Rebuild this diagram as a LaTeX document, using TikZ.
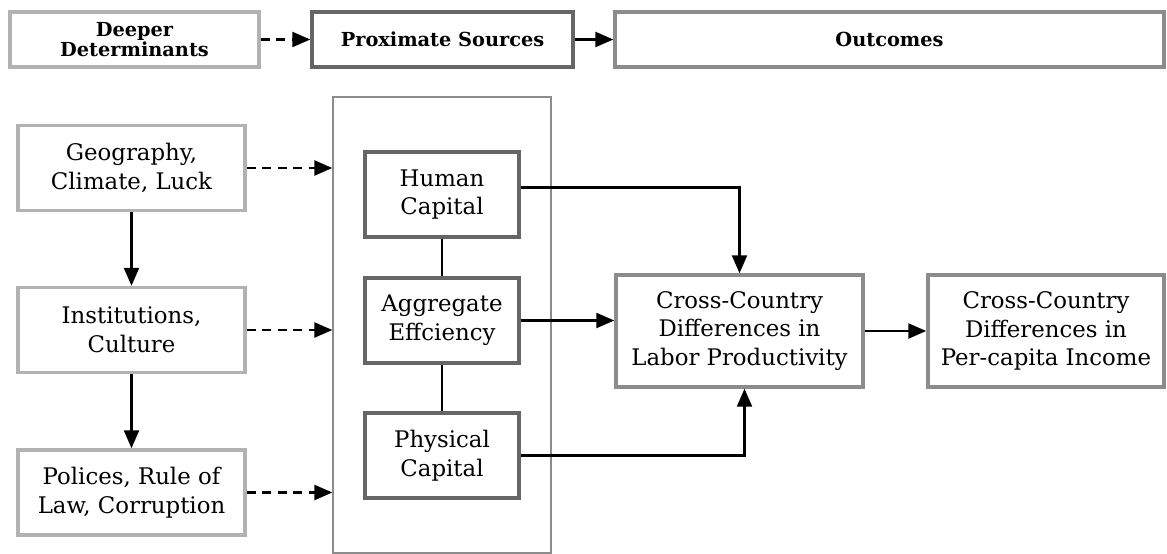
\documentclass[tikz,border=0pt]{standalone}
\usepackage{fontspec}
\setmainfont{DejaVu Serif}
\usetikzlibrary{arrows.meta, positioning}

\tikzset{
  box/.style={draw, line width=2pt, fill=white, align=center, inner sep=0pt,
    font=\fontsize{13}{16.3}\selectfont},
  lightbox/.style={box, draw=black!30},
  darkbox/.style={box, draw=black!60},
  midbox/.style={box, draw=black!45},
  headfont/.style={font=\bfseries\fontsize{11}{11.8}\selectfont},
  arr/.style={-{Triangle[length=0.36cm,width=0.3cm]}, line width=1.4pt},
  darr/.style={arr, dash pattern=on 0.18cm off 0.13cm},
}

\begin{document}
\begin{tikzpicture}[x=0.02cm, y=-0.02cm]
\useasboundingbox (0,0) rectangle (1167,554);

% header row
\node[lightbox, headfont, minimum width=4.98cm, minimum height=1.1cm] (deeper) at (134.5,39.5) {Deeper\\Determinants};
\node[darkbox, headfont, minimum width=5.22cm, minimum height=1.1cm] (proxim) at (442.5,39.5) {Proximate Sources};
\node[midbox, headfont, minimum width=10.98cm, minimum height=1.1cm] (outcome) at (889.5,39.5) {Outcomes};
\draw[darr] (deeper) -- (proxim);
\draw[arr] (proxim) -- (outcome);

% deeper determinants
\node[lightbox, minimum width=4.54cm, minimum height=1.7cm] (geo) at (131.5,168) {Geography,\\Climate, Luck};
\node[lightbox, minimum width=4.54cm, minimum height=1.7cm] (inst) at (131.5,330) {Institutions,\\Culture};
\node[lightbox, minimum width=4.54cm, minimum height=1.7cm] (pol) at (131.5,492.5) {Polices, Rule of\\Law, Corruption};
\draw[arr] (geo) -- (inst);
\draw[arr] (inst) -- (pol);

% proximate sources
\node[draw=black!45, line width=0.8pt, minimum width=4.36cm, minimum height=9.12cm] (frame) at (442,325) {};
\node[darkbox, minimum width=3.08cm, minimum height=1.7cm] (human) at (442,194.5) {Human\\Capital};
\node[darkbox, minimum width=3.08cm, minimum height=1.7cm] (agg) at (442,320.5) {Aggregate\\Effciency};
\node[darkbox, minimum width=3.08cm, minimum height=1.7cm] (phys) at (442,455.5) {Physical\\Capital};
\draw[line width=1.4pt] (human) -- (agg);
\draw[line width=1.4pt] (agg) -- (phys);

\draw[darr] (geo.east) -- (geo.east -| frame.west);
\draw[darr] (inst.east) -- (inst.east -| frame.west);
\draw[darr] (pol.east) -- (pol.east -| frame.west);

% outcomes
\node[midbox, minimum width=4.94cm, minimum height=2.24cm] (labor) at (739.5,331) {Cross-Country\\Differences in\\Labor Productivity};
\node[midbox, minimum width=4.72cm, minimum height=2.24cm] (income) at (1046,331) {Cross-Country\\Differences in\\Per-capita Income};
\draw[arr] ([yshift=0.14cm]human.east) -| (labor.north);
\draw[arr] (agg.east) -- (agg.east -| labor.west);
\draw[arr] (phys.east) -| ([xshift=0.1cm]labor.south);
\draw[arr] (labor) -- (income);
\end{tikzpicture}
\end{document}
